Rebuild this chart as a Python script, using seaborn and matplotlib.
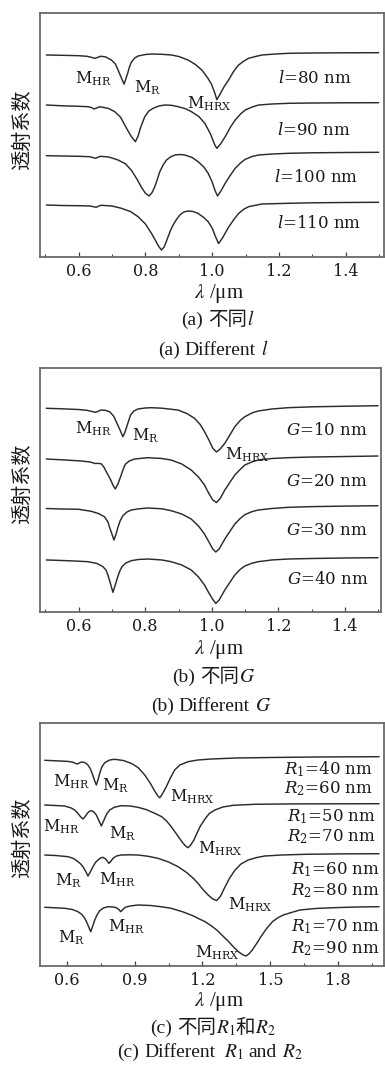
import numpy as np
import pandas as pd
import matplotlib
matplotlib.use("Agg")
import matplotlib.pyplot as plt
import seaborn as sns
from matplotlib.ticker import MultipleLocator, NullLocator

# ---------------- data ----------------
# panel (a): different l
a1_x = [0.503,0.55,0.60,0.625,0.64,0.648,0.656,0.665,0.68,0.698,0.71,0.718,0.728,0.736,0.742,0.747,0.752,0.758,0.768,0.778,0.80,0.82,0.85,0.878,0.90,0.928,0.95,0.969,0.985,0.998,1.008,1.014,1.022,1.035,1.049,1.065,1.079,1.095,1.109,1.13,1.149,1.19,1.229,1.30,1.40,1.499]
a1_t = [0.954,0.948,0.940,0.928,0.904,0.888,0.904,0.928,0.918,0.853,0.773,0.653,0.492,0.371,0.492,0.592,0.713,0.813,0.894,0.934,0.964,0.974,0.968,0.954,0.924,0.853,0.763,0.653,0.512,0.371,0.191,0.060,0.151,0.311,0.452,0.633,0.753,0.833,0.888,0.924,0.954,0.974,0.988,0.994,0.998,1.0]
a2_x = [0.503,0.55,0.60,0.628,0.638,0.646,0.654,0.663,0.69,0.708,0.725,0.738,0.748,0.758,0.77,0.778,0.785,0.798,0.81,0.823,0.84,0.858,0.878,0.898,0.92,0.938,0.96,0.978,0.995,1.008,1.014,1.025,1.039,1.055,1.069,1.085,1.099,1.12,1.139,1.18,1.229,1.30,1.40,1.499]
a2_t = [0.954,0.938,0.928,0.92,0.904,0.874,0.894,0.92,0.884,0.82,0.714,0.554,0.434,0.32,0.22,0.334,0.494,0.72,0.834,0.888,0.934,0.954,0.948,0.92,0.88,0.82,0.724,0.588,0.374,0.154,0.088,0.174,0.32,0.514,0.654,0.774,0.854,0.914,0.954,0.974,0.988,0.994,0.998,1.0]
a3_x = [0.503,0.55,0.60,0.632,0.642,0.65,0.657,0.665,0.69,0.718,0.74,0.758,0.775,0.788,0.80,0.811,0.82,0.828,0.836,0.843,0.853,0.863,0.875,0.888,0.905,0.918,0.94,0.958,0.975,0.988,1.000,1.008,1.016,1.027,1.039,1.055,1.069,1.085,1.099,1.12,1.139,1.18,1.229,1.30,1.40,1.499]
a3_t = [0.932,0.926,0.92,0.912,0.896,0.88,0.90,0.92,0.906,0.846,0.77,0.64,0.46,0.30,0.18,0.126,0.196,0.312,0.466,0.612,0.746,0.846,0.906,0.946,0.956,0.946,0.896,0.812,0.706,0.58,0.406,0.246,0.126,0.236,0.38,0.546,0.68,0.786,0.86,0.916,0.946,0.966,0.98,0.99,0.996,1.0]
a4_x = [0.503,0.55,0.60,0.635,0.645,0.653,0.66,0.668,0.70,0.728,0.755,0.778,0.80,0.818,0.83,0.84,0.848,0.856,0.862,0.868,0.875,0.883,0.893,0.903,0.915,0.928,0.943,0.958,0.975,0.988,1.000,1.008,1.019,1.03,1.049,1.065,1.079,1.095,1.109,1.149,1.229,1.30,1.40,1.499]
a4_t = [0.946,0.936,0.932,0.926,0.91,0.90,0.926,0.94,0.926,0.88,0.816,0.712,0.566,0.38,0.236,0.116,0.046,0.106,0.206,0.312,0.436,0.546,0.656,0.746,0.806,0.826,0.816,0.776,0.696,0.612,0.486,0.346,0.176,0.276,0.50,0.655,0.775,0.862,0.912,0.966,0.98,0.99,0.996,1.0]

# panel (b): different G
b1_x = [0.503,0.55,0.60,0.625,0.64,0.65,0.658,0.666,0.68,0.693,0.705,0.713,0.723,0.733,0.738,0.743,0.75,0.756,0.766,0.778,0.80,0.818,0.85,0.898,0.925,0.948,0.965,0.978,0.992,1.003,1.014,1.025,1.039,1.055,1.069,1.085,1.099,1.12,1.139,1.18,1.229,1.30,1.40,1.499]
b1_t = [0.949,0.939,0.925,0.909,0.886,0.87,0.886,0.915,0.909,0.882,0.797,0.685,0.541,0.389,0.462,0.555,0.699,0.817,0.896,0.935,0.955,0.961,0.951,0.915,0.846,0.752,0.63,0.488,0.314,0.161,0.088,0.147,0.259,0.433,0.586,0.708,0.783,0.856,0.896,0.935,0.961,0.978,0.99,1.0]
b2_x = [0.503,0.55,0.608,0.635,0.65,0.658,0.668,0.676,0.683,0.695,0.703,0.71,0.718,0.726,0.733,0.74,0.752,0.768,0.808,0.85,0.878,0.91,0.938,0.96,0.978,0.992,1.003,1.014,1.025,1.039,1.055,1.069,1.085,1.099,1.12,1.139,1.18,1.229,1.30,1.40,1.499]
b2_t = [0.941,0.925,0.902,0.882,0.852,0.856,0.846,0.78,0.691,0.547,0.429,0.35,0.448,0.592,0.724,0.836,0.902,0.941,0.967,0.951,0.921,0.842,0.724,0.586,0.429,0.251,0.133,0.084,0.163,0.33,0.488,0.626,0.734,0.823,0.882,0.921,0.951,0.967,0.98,0.99,1.0]
b3_x = [0.503,0.55,0.60,0.638,0.66,0.678,0.688,0.693,0.70,0.706,0.712,0.718,0.725,0.733,0.745,0.758,0.78,0.808,0.85,0.878,0.91,0.938,0.96,0.978,0.992,1.003,1.012,1.022,1.039,1.055,1.069,1.085,1.099,1.12,1.139,1.18,1.229,1.30,1.40,1.499]
b3_t = [0.945,0.935,0.93,0.89,0.845,0.78,0.679,0.574,0.442,0.324,0.433,0.574,0.708,0.803,0.876,0.915,0.939,0.955,0.939,0.902,0.836,0.738,0.6,0.442,0.275,0.147,0.088,0.147,0.344,0.502,0.639,0.748,0.823,0.882,0.915,0.945,0.968,0.982,0.992,1.0]
b4_x = [0.503,0.55,0.60,0.628,0.655,0.673,0.682,0.688,0.695,0.703,0.709,0.716,0.723,0.73,0.742,0.758,0.78,0.808,0.85,0.878,0.91,0.938,0.96,0.978,0.992,1.003,1.012,1.022,1.039,1.055,1.069,1.085,1.099,1.12,1.139,1.18,1.229,1.30,1.40,1.499]
b4_t = [0.955,0.945,0.931,0.921,0.886,0.823,0.758,0.659,0.502,0.318,0.442,0.594,0.728,0.823,0.896,0.941,0.965,0.974,0.955,0.921,0.856,0.758,0.62,0.462,0.295,0.177,0.098,0.167,0.364,0.521,0.659,0.768,0.836,0.89,0.921,0.955,0.974,0.984,0.994,1.0]

# panel (c): different R1 and R2
c1_x = [0.503,0.55,0.60,0.625,0.64,0.647,0.655,0.665,0.68,0.694,0.705,0.715,0.724,0.731,0.738,0.746,0.755,0.768,0.79,0.812,0.85,0.885,0.915,0.945,0.97,0.99,1.003,1.011,1.02,1.03,1.04,1.058,1.077,1.10,1.136,1.18,1.239,1.35,1.5,1.7,1.98]
c1_t = [0.928,0.918,0.908,0.894,0.864,0.854,0.874,0.894,0.884,0.834,0.754,0.634,0.514,0.434,0.534,0.668,0.794,0.88,0.934,0.948,0.924,0.868,0.784,0.634,0.464,0.304,0.214,0.178,0.234,0.314,0.40,0.574,0.734,0.834,0.90,0.934,0.954,0.974,0.984,0.994,1.0]
c2_x = [0.503,0.55,0.591,0.62,0.635,0.65,0.662,0.672,0.682,0.691,0.70,0.709,0.72,0.731,0.743,0.753,0.76,0.768,0.778,0.79,0.81,0.841,0.88,0.915,0.95,0.989,1.02,1.042,1.062,1.085,1.11,1.125,1.136,1.148,1.162,1.175,1.189,1.211,1.23,1.255,1.29,1.336,1.43,1.6,1.8,1.98]
c2_t = [0.974,0.964,0.954,0.914,0.874,0.804,0.734,0.694,0.744,0.808,0.848,0.86,0.834,0.774,0.654,0.554,0.624,0.708,0.804,0.874,0.928,0.96,0.954,0.928,0.884,0.808,0.74,0.65,0.54,0.394,0.234,0.154,0.12,0.174,0.274,0.404,0.54,0.694,0.804,0.874,0.934,0.968,0.988,0.996,0.998,1.0]
c3_x = [0.503,0.55,0.606,0.63,0.65,0.662,0.672,0.683,0.694,0.704,0.716,0.727,0.738,0.75,0.76,0.772,0.786,0.796,0.805,0.82,0.841,0.88,0.915,0.96,1.003,1.05,1.092,1.13,1.16,1.18,1.20,1.225,1.245,1.263,1.28,1.30,1.32,1.344,1.37,1.402,1.44,1.476,1.55,1.653,1.8,1.98]
c3_t = [0.974,0.964,0.94,0.904,0.84,0.794,0.74,0.654,0.554,0.634,0.74,0.824,0.874,0.914,0.928,0.894,0.808,0.854,0.908,0.954,0.974,0.978,0.974,0.948,0.908,0.834,0.74,0.624,0.504,0.408,0.294,0.174,0.094,0.064,0.154,0.34,0.514,0.674,0.794,0.874,0.924,0.954,0.974,0.988,0.996,1.0]
c4_x = [0.503,0.55,0.591,0.625,0.65,0.667,0.68,0.693,0.706,0.715,0.724,0.735,0.746,0.762,0.782,0.805,0.82,0.83,0.839,0.848,0.859,0.88,0.915,0.97,1.02,1.062,1.115,1.16,1.189,1.21,1.237,1.263,1.29,1.315,1.336,1.36,1.38,1.392,1.405,1.42,1.44,1.46,1.484,1.51,1.535,1.557,1.6,1.631,1.7,1.778,1.88,1.98]
c4_t = [0.988,0.978,0.968,0.944,0.90,0.844,0.768,0.644,0.50,0.614,0.734,0.844,0.92,0.974,1.0,0.994,0.978,0.944,0.90,0.944,0.988,1.014,1.034,1.024,0.998,0.968,0.894,0.814,0.748,0.704,0.624,0.534,0.414,0.304,0.20,0.094,0.034,0.014,0.054,0.134,0.268,0.414,0.568,0.704,0.784,0.834,0.894,0.934,0.964,0.98,0.994,1.0]

a_labels = ["$l$=80 nm", "$l$=90 nm", "$l$=100 nm", "$l$=110 nm"]
b_labels = ["$G$=10 nm", "$G$=20 nm", "$G$=30 nm", "$G$=40 nm"]
c_labels = [("$R_1$=40 nm", "$R_2$=60 nm"), ("$R_1$=50 nm", "$R_2$=70 nm"),
            ("$R_1$=60 nm", "$R_2$=80 nm"), ("$R_1$=70 nm", "$R_2$=90 nm")]
xticks_ab = [0.6, 0.8, 1.0, 1.2, 1.4]
xticks_c = [0.6, 0.9, 1.2, 1.5, 1.8]

# ---------------- style ----------------
sns.set_theme(style="white")
plt.rcParams["font.family"] = ["Liberation Serif", "Noto Sans CJK SC", "DejaVu Sans"]
plt.rcParams["mathtext.fontset"] = "dejavuserif"
plt.rcParams["axes.unicode_minus"] = False

LINE = "#2b2b2b"
SPINE = "#6a6a6a"
TXT = "#1a1a1a"
FS = 11.5
FL = 12
SER = ["DejaVu Serif"]

W, H = 385, 1066
fig = plt.figure(figsize=(W / 100, H / 100), dpi=100)
renderer = fig.canvas.get_renderer()


def px_axes(left, top, right, bottom):
    return fig.add_axes([left / W, 1 - bottom / H, (right - left) / W, (bottom - top) / H])


def draw(ax, curves, offsets, xlim, ylim, ticks, minor):
    for (x, t), off in zip(curves, offsets):
        df = pd.DataFrame({"wl": x, "T": np.asarray(t) + off})
        sns.lineplot(data=df, x="wl", y="T", ax=ax, color=LINE, lw=1.05,
                     sort=False, estimator=None)
    ax.set_xlim(*xlim)
    ax.set_ylim(*ylim)
    ax.set_xlabel("")
    ax.set_ylabel("")
    ax.set_xticks(ticks)
    ax.set_xticklabels([f"{v:.1f}" for v in ticks])
    ax.xaxis.set_minor_locator(MultipleLocator(minor))
    ax.yaxis.set_major_locator(NullLocator())
    ax.tick_params(axis="x", which="major", direction="in", length=3.5, width=0.9,
                   colors="#444444", labelcolor=TXT, labelsize=FS, pad=4.5,
                   labelfontfamily="DejaVu Serif", bottom=True, top=False)
    ax.tick_params(axis="x", which="minor", direction="in", length=2.2, width=0.8,
                   colors="#444444", bottom=True, top=False)
    for s in ax.spines.values():
        s.set_color(SPINE)
        s.set_linewidth(1.3)


def label(ax, x, y, s, size=FS):
    ax.text(x, y, s, ha="center", va="center", fontsize=size, family=SER, color=TXT)


def rich(xc, ybase, pieces, size=14):
    """Place text pieces side by side on a common baseline, centred at xc (pixels)."""
    objs = []
    for s, kw, gap in pieces:
        t = fig.text(0, 1 - ybase / H, s, ha="left", va="baseline", fontsize=size,
                     color=TXT, **kw)
        objs.append((t, gap))
    widths = [t.get_window_extent(renderer).width for t, _ in objs]
    total = sum(widths) + sum(g for _, g in objs)
    x = xc - total / 2
    for (t, gap), w in zip(objs, widths):
        t.set_x(x / W)
        x += w + gap


M = lambda s: r"$\mathrm{M}_{\mathrm{%s}}$" % s

# panel (a)
ax_a = px_axes(40, 13.3, 384, 256.7)
draw(ax_a, [(a1_x, a1_t), (a2_x, a2_t), (a3_x, a3_t), (a4_x, a4_t)],
     [0, -1.0, -1.992, -2.992], (0.484, 1.515), (-3.08, 1.788), xticks_ab, 0.1)
label(ax_a, 0.644, 0.49, M("HR"))
label(ax_a, 0.806, 0.31, M("R"))
label(ax_a, 0.992, -0.01, M("HRX"))
for lab, (xx, yy) in zip(a_labels, [(1.309, 0.49), (1.304, -0.566), (1.312, -1.5), (1.32, -2.426)]):
    label(ax_a, xx, yy, lab, FL)

# panel (b)
ax_b = px_axes(40, 368.3, 381, 611.7)
draw(ax_b, [(b1_x, b1_t), (b2_x, b2_t), (b3_x, b3_t), (b4_x, b4_t)],
     [0, -0.991, -1.97, -2.994], (0.484, 1.508), (-3.058, 1.737), xticks_ab, 0.1)
label(ax_b, 0.644, 0.555, M("HR"))
label(ax_b, 0.80, 0.41, M("R"))
label(ax_b, 1.106, 0.03, M("HRX"))
for lab, (xx, yy) in zip(b_labels, [(1.344, 0.521), (1.344, -0.497), (1.344, -1.468), (1.348, -2.414)]):
    label(ax_b, xx, yy, lab, FL)

# panel (c)
ax_c = px_axes(40, 722.7, 384, 966)
draw(ax_c, [(c1_x, c1_t), (c2_x, c2_t), (c3_x, c3_t), (c4_x, c4_t)],
     [0, -0.94, -1.94, -3.0], (0.482, 2.002), (-3.186, 1.68), xticks_c, 0.15)
for txt, xx, yy in [("HR", 0.622, 0.50), ("R", 0.815, 0.414), ("HRX", 1.155, 0.20),
                    ("HR", 0.578, -0.40), ("R", 0.845, -0.532), ("HRX", 1.279, -0.832),
                    ("R", 0.607, -1.486), ("HR", 0.823, -1.466), ("HRX", 1.412, -1.966),
                    ("R", 0.622, -2.612), ("HR", 0.864, -2.40), ("HRX", 1.265, -2.92)]:
    label(ax_c, xx, yy, M(txt))
for (l1, l2), (xx, y1, y2) in zip(c_labels, [(1.756, 0.748, 0.368), (1.771, -0.2, -0.6),
                                            (1.786, -1.266, -1.68), (1.786, -2.4, -2.832)]):
    label(ax_c, xx, y1, l1, FL)
    label(ax_c, xx, y2, l2, FL)

# y labels
for yc in [130, 483.5, 837.5]:
    fig.text(22.7 / W, 1 - yc / H, "透射系数", rotation=90, ha="center", va="center",
             fontsize=14.5, family=["Noto Sans CJK SC"], color=TXT)

# x labels
for yc in [293.3, 649.3, 1001.7]:
    fig.text(219 / W, 1 - yc / H, r"$\lambda$ /μm", ha="center", va="center", fontsize=15,
             color=TXT, math_fontfamily="stix")

# captions
plain = {}
ital = {"math_fontfamily": "stix"}
rich(218, 325, [("(a)", plain, 5), ("不同", plain, 0), ("$l$", ital, 0)])
rich(213, 355, [("(a)", plain, 5), ("Different", plain, 5), ("$l$", ital, 0)])
rich(214, 682, [("(b)", plain, 5), ("不同", plain, 0), ("$G$", ital, 0)])
rich(211, 710.7, [("(b)", plain, 5), ("Different", plain, 5), ("$G$", ital, 0)])
rich(213, 1033.3, [("(c)", plain, 5), ("不同", plain, 0), ("$R_1$", ital, 0),
                   ("和", plain, 0), ("$R_2$", ital, 0)])
rich(210, 1057.3, [("(c)", plain, 5), ("Different", plain, 9), ("$R_1$", ital, 5),
                   ("and", plain, 5), ("$R_2$", ital, 0)])

fig.savefig("out.png", dpi=100, facecolor="white")
